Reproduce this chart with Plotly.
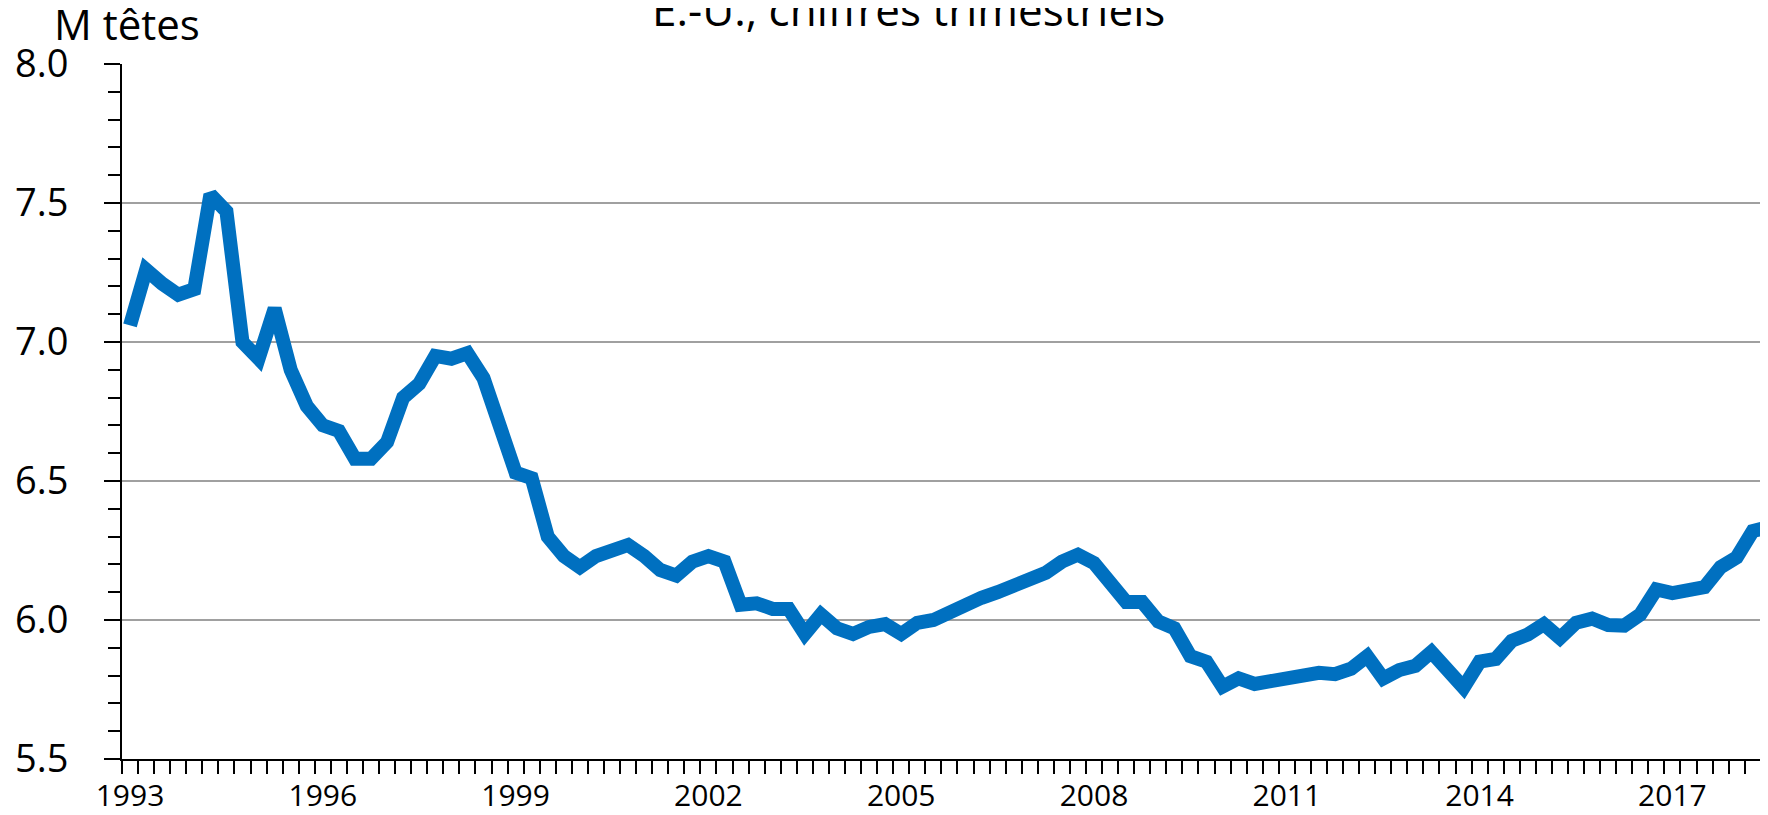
import plotly.graph_objects as go

# Quarterly data, 1993 Q1 ... 2018 Q3 (million head)
quarters = list(range(103))
values = [
    7.06, 7.26, 7.21, 7.17, 7.19, 7.53, 7.47, 7.00, 6.94, 7.12,
    6.90, 6.77, 6.70, 6.68, 6.58, 6.58, 6.64, 6.80, 6.85, 6.95,
    6.94, 6.96, 6.87, 6.69, 6.53, 6.51, 6.30, 6.23, 6.19, 6.23,
    6.25, 6.27, 6.23, 6.18, 6.16, 6.21, 6.23, 6.21, 6.055, 6.06,
    6.04, 6.04, 5.95, 6.02, 5.97, 5.95, 5.975, 5.985, 5.95, 5.99,
    6.00, 6.03, 6.05, 6.08, 6.10, 6.12, 6.15, 6.17, 6.21, 6.235,
    6.205, 6.14, 6.065, 6.065, 5.995, 5.97, 5.87, 5.85, 5.76, 5.79,
    5.77, 5.78, 5.79, 5.805, 5.81, 5.805, 5.825, 5.87, 5.79, 5.82,
    5.835, 5.885, 5.82, 5.757, 5.85, 5.86, 5.925, 5.948, 5.985, 5.935,
    5.99, 6.005, 5.982, 5.98, 6.02, 6.11, 6.097, 6.107, 6.118, 6.19,
    6.225, 6.32, 6.335,
]
year_ticks = [0, 12, 24, 36, 48, 60, 72, 84, 96]
year_labels = ["1993", "1996", "1999", "2002", "2005", "2008", "2011", "2014", "2017"]

title_text = "E.-U., chiffres trimestriels"
unit_text = "M têtes"

# page has an 8px body margin: work in page pixels, convert to figure pixels
OFF = 8
PAGE_W, PAGE_H = 1768, 815
W, H = PAGE_W - OFF, PAGE_H - OFF
AX_X, TOP_Y, BOT_Y = 122, 64, 759          # page pixels
L = AX_X - OFF
T = TOP_Y - OFF
B = H - (BOT_Y - OFF)
PW, PH = W - L, H - T - B


def px_to_paper(xp, yp):
    return (xp - AX_X) / PW, (BOT_Y - yp) / PH


fig = go.Figure()
fig.add_trace(go.Scatter(
    x=quarters, y=values, mode="lines",
    line=dict(color="#0070C0", width=14),
    hoverinfo="skip", showlegend=False,
))

tx, ty = px_to_paper(908, 9)
ux, uy = px_to_paper(52, 24)

fig.update_layout(
    width=W, height=H,
    margin=dict(l=L, r=0, t=T, b=B, pad=0, autoexpand=False),
    paper_bgcolor="white", plot_bgcolor="white",
    font=dict(family="Open Sans, sans-serif", color="black"),
    xaxis=dict(
        range=[-0.5, 101.95], automargin=False,
        tickvals=year_ticks, ticktext=year_labels,
        ticks="", showgrid=False, zeroline=False,
        showline=True, linecolor="black", linewidth=2,
        tickfont=dict(family="Liberation Sans Narrow, Open Sans, sans-serif", size=30, color="black"),
        ticklabelstandoff=9,
        minor=dict(ticks="outside", tick0=-0.5, dtick=1, ticklen=13,
                   tickwidth=2, tickcolor="black", showgrid=False),
    ),
    yaxis=dict(
        range=[5.5, 8.0], dtick=0.5, tick0=5.5, tickformat=".1f", automargin=False,
        ticks="outside", ticklen=16, tickwidth=2, tickcolor="black",
        showgrid=True, gridcolor="#A0A0A0", gridwidth=2,
        zeroline=False, showline=True, linecolor="black", linewidth=2,
        tickfont=dict(family="Open Sans, sans-serif", size=38, color="black"),
        ticklabelstandoff=28,
        minor=dict(ticks="outside", dtick=0.1, tick0=5.5, ticklen=12,
                   tickwidth=2, tickcolor="black", showgrid=False),
    ),
    annotations=[
        dict(text=title_text, xref="paper", yref="paper", x=tx, y=ty,
             xanchor="center", yanchor="middle", showarrow=False,
             font=dict(family="Open Sans, sans-serif", size=44, color="black")),
        dict(text=unit_text, xref="paper", yref="paper", x=ux, y=uy,
             xanchor="left", yanchor="middle", showarrow=False,
             font=dict(family="Open Sans, sans-serif", size=42, color="black")),
    ],
)

fig.write_html("out.html")
